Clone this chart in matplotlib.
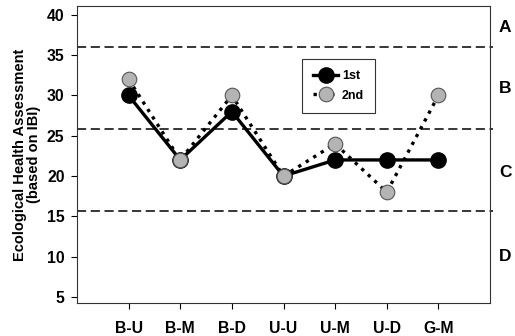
import matplotlib.pyplot as plt

sites = ['B-U', 'B-M', 'B-D', 'U-U', 'U-M', 'U-D', 'G-M']
first = [30, 22, 28, 20, 22, 22, 22]
second = [32, 22, 30, 20, 24, 18, 30]
bounds = [36, 25.9, 15.7]
classes = ['A', 'B', 'C', 'D']
class_y = [38.4, 30.9, 20.5, 10.0]

plt.rcParams['font.family'] = 'Liberation Sans'
plt.rcParams['font.weight'] = 'bold'

fig = plt.figure(figsize=(5.15, 3.36), dpi=100)
ax = fig.add_axes([77 / 515, 33 / 336, 413 / 515, 297 / 336])

x = list(range(1, len(sites) + 1))
for b in bounds:
    ax.axhline(b, xmin=0, xmax=1.008, color='black', lw=1.1, ls=(0, (6, 3)), clip_on=False, zorder=1)

ax.plot(x, first, ls='-', lw=2.4, color='black', marker='o', ms=11,
        mfc='black', mec='black', label='1st', zorder=2)
ax.plot(x, second, ls=':', lw=2.4, color='black', marker='o', ms=10.5,
        mfc='#b4b4b4', mec='#555555', mew=0.8, label='2nd', zorder=3)

ax.set_xlim(0, 8)
ax.set_ylim(4.25, 41.1)
ax.set_xticks(x)
ax.set_xticklabels(sites)
ax.set_yticks(range(5, 45, 5))
ax.tick_params(labelsize=11.3, direction='out', length=4, width=0.8, pad=5)
ax.tick_params(axis='x', pad=9)
for s in ax.spines.values():
    s.set_linewidth(0.8)
    s.set_color('#333333')

ax.set_ylabel('Ecological Health Assessment\n(based on IBI)', fontsize=10.5,
              fontweight='bold', labelpad=4, linespacing=1.0)

for lab, yv in zip(classes, class_y):
    ax.text(1.037, yv, lab, transform=ax.get_yaxis_transform(), fontsize=12.5,
            fontweight='bold', va='center', ha='center', clip_on=False)

handles, labels = ax.get_legend_handles_labels()
leg = ax.legend(handles, labels, loc='upper left',
                bbox_to_anchor=((302 - 77) / 413, (303 - 59) / 297),
                fancybox=False, edgecolor='#333333', framealpha=1,
                fontsize=9, handlelength=2.0, borderpad=0.9, labelspacing=0.6,
                handletextpad=0.3, borderaxespad=0)
leg.get_frame().set_linewidth(0.8)

fig.savefig('out.png', dpi=100)
